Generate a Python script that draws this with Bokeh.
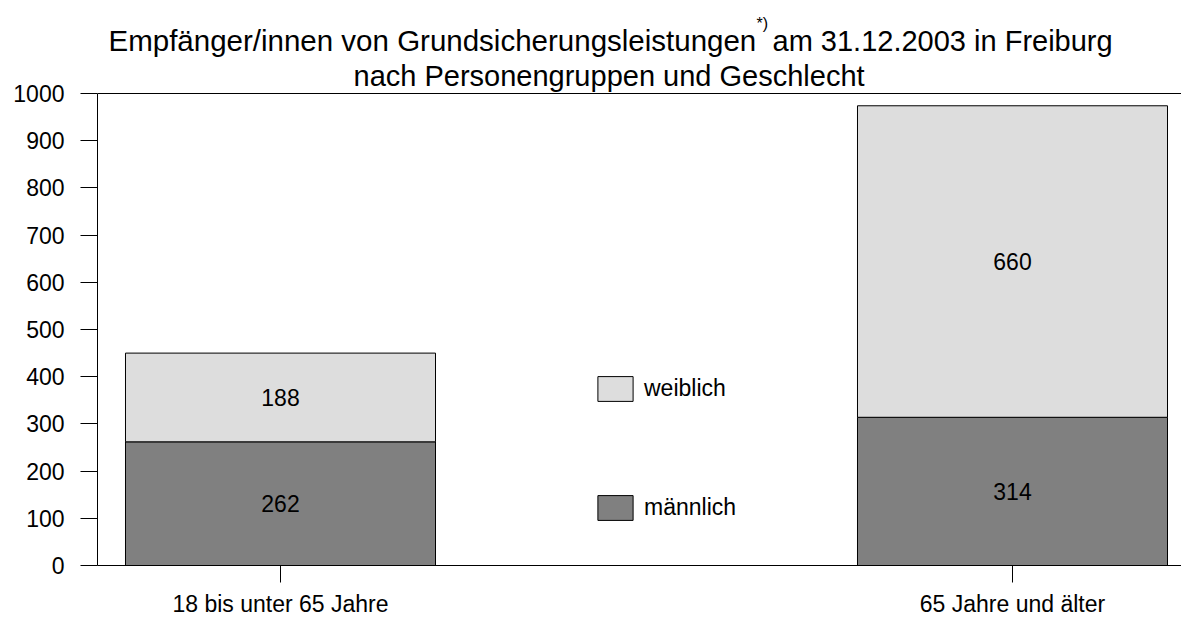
from bokeh.plotting import figure
from bokeh.models import (ColumnDataSource, Range1d, FixedTicker, Span, Legend,
                          LegendItem, Label)
from bokeh.core.properties import value
from bokeh.embed import file_html
from bokeh.resources import INLINE

# ---------------- data ----------------
title_line1a = "Empfänger/innen von Grundsicherungsleistungen"
title_line1b = "am 31.12.2003 in Freiburg"
title_line2 = "nach Personengruppen und Geschlecht"
footnote_mark = "*)"

categories = ["18 bis unter 65 Jahre", "65 Jahre und älter"]
category_slots = [0, 2]          # slot 1 stays empty (legend sits there)
maennlich = [262, 314]
weiblich = [188, 660]
series_names = ["männlich", "weiblich"]
y_ticks = [0, 100, 200, 300, 400, 500, 600, 700, 800, 900, 1000]

# ---------------- style / layout ----------------
FONT = "Liberation Sans"
COL_M = "#808080"
COL_W = "#dddddd"
SLOT_PX = 366          # pixels per category slot
AXIS_PX = 472          # pixels from 0 to 1000 on the value axis

W, H = 1181, 619
LEFT, BOTTOM = 97, 54
frame_w = W - LEFT
frame_h = H - BOTTOM

x = [s + 0.5 for s in category_slots]
src = ColumnDataSource(dict(
    x=x, m=maennlich, w=weiblich,
    m_mid=[v / 2 for v in maennlich],
    w_mid=[a + b / 2 for a, b in zip(maennlich, weiblich)],
    m_lbl=[str(v) for v in maennlich],
    w_lbl=[str(v) for v in weiblich],
))

y_max = y_ticks[-1]
p = figure(width=W, height=H, output_backend="svg", toolbar_location=None,
           x_range=Range1d(0, frame_w / SLOT_PX),
           y_range=Range1d(0, y_max * frame_h / AXIS_PX),
           min_border_left=LEFT, min_border_right=0, min_border_top=0,
           min_border_bottom=BOTTOM, background_fill_color="white",
           border_fill_color="white")
p.outline_line_color = None
p.xgrid.visible = False
p.ygrid.visible = False

rs = p.vbar_stack(["m", "w"], x="x", width=0.847, source=src,
                  fill_color=[COL_M, COL_W], line_color="black", line_width=1)

for ycol, tcol in (("m_mid", "m_lbl"), ("w_mid", "w_lbl")):
    p.text(x="x", y=ycol, text=tcol, source=src, text_font=value(FONT),
           text_font_size="23px", text_align="center", text_baseline="middle",
           text_color="black")

p.add_layout(Span(location=y_max, dimension="width", line_color="black",
                  line_width=1))

# axes
ya = p.yaxis[0]
ya.ticker = FixedTicker(ticks=y_ticks)
ya.bounds = (0, y_max)
ya.major_tick_out = 17
ya.major_tick_in = 0
ya.minor_tick_out = 0
ya.minor_tick_in = 0
ya.major_label_standoff = 16
ya.major_label_text_font = FONT
ya.major_label_text_font_size = "23px"
ya.major_label_text_color = "black"
ya.axis_line_color = "black"
ya.major_tick_line_color = "black"

xa = p.xaxis[0]
xa.ticker = FixedTicker(ticks=x)
xa.major_label_overrides = {xv: c for xv, c in zip(x, categories)}
xa.major_tick_out = 17
xa.major_tick_in = 0
xa.minor_tick_out = 0
xa.minor_tick_in = 0
xa.major_label_standoff = 8
xa.major_label_text_font = FONT
xa.major_label_text_font_size = "23px"
xa.major_label_text_color = "black"
xa.axis_line_color = "black"
xa.major_tick_line_color = "black"

# legend
legend = Legend(items=[LegendItem(label=series_names[1], renderers=[rs[1]]),
                       LegendItem(label=series_names[0], renderers=[rs[0]])],
                location=(496, 42), orientation="vertical",
                glyph_width=44, glyph_height=31, label_standoff=7, spacing=88,
                padding=0, margin=0, border_line_color=None,
                background_fill_alpha=0, label_text_font=FONT,
                label_text_font_size="23px", label_height=25,
                label_text_color="black")
p.add_layout(legend)

# title (two lines + superscript footnote mark), frame-relative screen units
def title_label(xs, ys, txt, size, baseline="alphabetic"):
    p.add_layout(Label(x=xs, y=ys, x_units="screen", y_units="screen",
                       text=txt, text_font=FONT, text_font_size=size,
                       text_baseline=baseline, text_color="black"))

title_label(11, frame_h - 40, title_line1a, "29.5px")
title_label(675, frame_h - 40, title_line1b, "29px")
title_label(256, frame_h - 75, title_line2, "29px")
title_label(659, frame_h - 14, footnote_mark, "16px", "top")

open("out.html", "w").write(file_html(p, INLINE))
